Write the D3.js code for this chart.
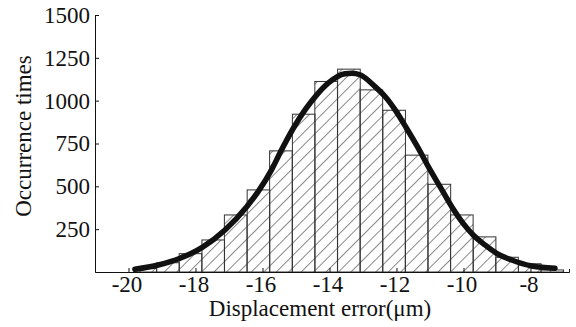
<!DOCTYPE html>
<html lang="en">
<head>
<meta charset="UTF-8" />
<title>Displacement error histogram</title>
<script src="https://d3js.org/d3.v7.min.js"></script>
<style>
  body { margin: 0; background: #fff; }
  svg text { font-family: "Liberation Serif", "Times New Roman", serif; fill: #111; }
  .axis-label { font-size: 23px; }
</style>
</head>
<body>
<svg width="576" height="327"></svg>
<script>
  // histogram bins (bin centres, um) and counts
  const binCenters = [-19.50, -18.82, -18.15, -17.47, -16.80, -16.12, -15.45, -14.77, -14.10, -13.42,
                      -12.75, -12.07, -11.40, -10.72, -10.05, -9.37, -8.70, -8.02, -7.35];
  const binWidth = 0.675;
  const counts = [20, 54, 107, 187, 333, 479, 707, 921, 1112, 1184,
                  1063, 944, 682, 512, 333, 205, 86, 48, 12];

  // fitted curve
  const fitX = [-19.81, -19.11, -18.46, -17.81, -17.12, -16.47, -16.13, -15.73, -15.43, -15.08,
                -14.73, -14.38, -14.04, -13.54, -13.33, -13.09, -12.64, -12.34, -12.04, -11.70,
                -11.35, -11.05, -10.70, -10.35, -10.01, -9.71, -9.36, -9.01, -8.56, -7.96, -7.27];
  const fitY = [16, 41, 80, 142, 245, 381, 469, 596, 713, 839,
                946, 1034, 1102, 1157, 1160, 1151, 1082, 1024, 946, 839,
                723, 615, 498, 381, 284, 216, 158, 109, 70, 35, 22];

  const xTicks = [-20, -18, -16, -14, -12, -10, -8];
  const yTicks = [250, 500, 750, 1000, 1250, 1500];

  const svg = d3.select("svg");

  const x = d3.scaleLinear().domain([-21, -6.85]).range([95, 569]);
  const y = d3.scaleLinear().domain([0, 1500]).range([272, 15]);

  // hatch pattern
  svg.append("defs").append("pattern")
    .attr("id", "hatch")
    .attr("patternUnits", "userSpaceOnUse")
    .attr("width", 8.8).attr("height", 8.8)
    .attr("patternTransform", "rotate(45)")
    .append("line")
    .attr("x1", 0).attr("y1", 0).attr("x2", 0).attr("y2", 8.8)
    .attr("stroke", "#2a2a2a").attr("stroke-width", 1.1);

  // bars
  svg.append("g").selectAll("rect")
    .data(binCenters)
    .join("rect")
    .attr("x", d => x(d - binWidth / 2))
    .attr("width", d => x(d + binWidth / 2) - x(d - binWidth / 2))
    .attr("y", (d, i) => y(counts[i]))
    .attr("height", (d, i) => y(0) - y(counts[i]))
    .attr("fill", "url(#hatch)")
    .attr("stroke", "#333")
    .attr("stroke-width", 1);

  // axes
  const xAxis = svg.append("g")
    .attr("transform", `translate(0,${y(0)})`)
    .call(d3.axisBottom(x).tickValues(xTicks).tickFormat(d => "-" + Math.abs(d))
      .tickSizeInner(-4).tickSizeOuter(-3).tickPadding(4));

  const yAxis = svg.append("g")
    .attr("transform", `translate(${x(-21)},0)`)
    .call(d3.axisLeft(y).tickValues(yTicks).tickFormat(d3.format("d"))
      .tickSizeInner(-4).tickSizeOuter(0).tickPadding(5));

  svg.selectAll(".domain, .tick line").attr("stroke", "#111");
  [xAxis, yAxis].forEach(a => a
    .attr("font-family", "Liberation Serif, serif")
    .attr("font-size", 23)
    .selectAll(".tick text")
    .attr("font-family", "Liberation Serif, serif")
    .attr("font-size", 23)
    .attr("fill", "#111"));
  xAxis.selectAll(".tick text").attr("dx", -2);

  // fitted curve
  const pts = fitX.map((v, i) => [v, fitY[i]]);
  svg.append("path")
    .datum(pts)
    .attr("fill", "none")
    .attr("stroke", "#111")
    .attr("stroke-width", 5.5)
    .attr("stroke-linecap", "round")
    .attr("d", d3.line().x(d => x(d[0])).y(d => y(d[1])).curve(d3.curveMonotoneX));

  // labels
  svg.append("text")
    .attr("class", "axis-label")
    .attr("x", 320).attr("y", 316)
    .attr("text-anchor", "middle")
    .text("Displacement error(\u03bcm)");

  svg.append("text")
    .attr("class", "axis-label")
    .attr("transform", "translate(31,136) rotate(-90)")
    .attr("text-anchor", "middle")
    .text("Occurrence times");
</script>
</body>
</html>
